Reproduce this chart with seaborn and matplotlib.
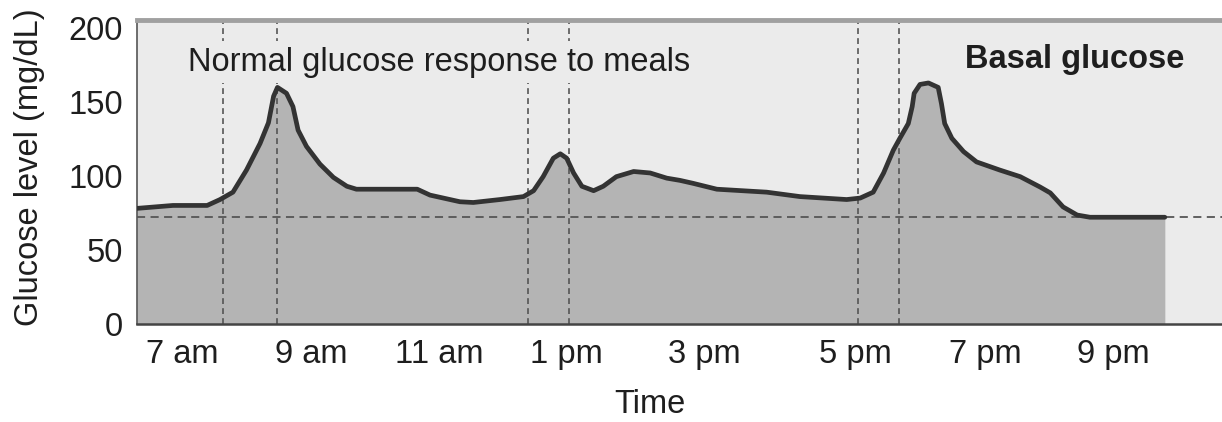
import numpy as np
import matplotlib
matplotlib.use('Agg')
import matplotlib.pyplot as plt
import seaborn as sns

# Glucose over one day (hour of day, mg/dL)
hours = [6.30, 6.86, 7.39, 7.59, 7.79, 8.00, 8.21, 8.34, 8.42, 8.48,
         8.62, 8.72, 8.80, 8.93, 9.14, 9.35, 9.56, 9.71, 10.66, 10.86,
         11.33, 11.54, 11.96, 12.33, 12.49, 12.64, 12.80, 12.91, 13.01, 13.11,
         13.23, 13.40, 13.54, 13.73, 13.98, 14.22, 14.46, 14.65, 14.84, 15.17,
         15.83, 16.27, 16.89, 17.08, 17.28, 17.44, 17.59, 17.69, 17.82, 17.88,
         17.91, 18.00, 18.13, 18.28, 18.33, 18.38, 18.49, 18.67, 18.87, 19.23,
         19.55, 19.86, 20.02, 20.22, 20.44, 20.64, 21.81]
glucose = [78, 80, 80, 84, 89, 104, 122, 136, 154, 160,
           156, 147, 131, 120, 108, 99, 93, 91, 91, 87,
           82.5, 82, 84, 86, 90, 99.5, 112, 115, 112, 102,
           93, 90, 93, 99.5, 103, 102, 98.5, 97, 95, 91,
           89, 86, 84, 85, 89, 102, 117.5, 125.5, 135.5, 147,
           156, 162, 163, 160, 149, 135.5, 125.5, 116.5, 109.5, 104,
           99.5, 92.5, 88.5, 79, 73.5, 72, 72]

# meal start / peak markers (hours) and basal level
meal_lines = [7.63, 8.48, 12.40, 13.04, 17.05, 17.68]
basal = 72

tick_hours = [7, 9, 11, 13, 15, 17, 19, 21]
tick_labels = ['7 am', '9 am', '11 am', '1 pm', '3 pm', '5 pm', '7 pm', '9 pm']
y_ticks = [0, 50, 100, 150, 200]

# the drawn time axis is a schematic, not evenly spaced: piecewise mapping
knot_h = [5] + tick_hours + [23]
knot_px = [53, 182, 311, 439, 566, 704, 855, 985, 1113, 1241]


def fwd(h):
    return np.interp(h, knot_h, knot_px)


def inv(p):
    return np.interp(p, knot_px, knot_h)


sns.set_style('white')
plt.rcParams['font.family'] = ['Liberation Sans', 'DejaVu Sans']

BG = '#ebebeb'
FILL = '#b4b4b4'
LINE = '#333333'
DASH = '#555555'
TXT = '#1e1e1e'
FS = 23.5

fig = plt.figure(figsize=(12.22, 4.22), dpi=100)
ax = fig.add_axes([137 / 1222, 1 - 323.5 / 422, 1 - 137 / 1222, 304 / 422])
ax.set_facecolor(BG)
ax.set_xscale('function', functions=(fwd, inv))

ax.fill_between(hours, 0, glucose, color=FILL, lw=0, zorder=1)
ax.axhline(basal, color=DASH, lw=1.3, dashes=(4.5, 3), zorder=2)
for m in meal_lines:
    ax.axvline(m, color=DASH, lw=1.2, dashes=(3.5, 2.5), zorder=2)
sns.lineplot(x=hours, y=glucose, ax=ax, color=LINE, linewidth=3.4,
             solid_joinstyle='round', solid_capstyle='round', zorder=4)

ax.text(0.047, 0.86, 'Normal glucose response to meals', transform=ax.transAxes,
        fontsize=FS, color=TXT, ha='left', va='center', zorder=3,
        bbox=dict(facecolor=BG, edgecolor='none', pad=4))
ax.text(0.8645, 0.867, 'Basal glucose', transform=ax.transAxes,
        fontsize=FS, fontweight='bold', color=TXT, ha='center', va='center', zorder=3)

ax.set_xlim(inv(137), inv(1222))
ax.set_ylim(0, 206)
ax.set_xticks(tick_hours)
ax.set_xticklabels(tick_labels)
ax.set_yticks(y_ticks)
ax.tick_params(axis='both', direction='in', length=13, width=1.1, colors='#444444',
               labelsize=FS, labelcolor=TXT)
ax.tick_params(axis='y', pad=10)
ax.tick_params(axis='x', pad=11)
for t, lab in zip(ax.xaxis.get_major_ticks(), tick_labels):
    if lab in ('1 pm', '5 pm'):
        t.tick1line.set_visible(False)

ax.set_xlabel('Time', fontsize=FS, color=TXT, labelpad=14)
ax.set_ylabel('Glucose level (mg/dL)', fontsize=FS, color=TXT, labelpad=17)
ax.xaxis.label.set_x((650 - 137) / 1085)
ax.yaxis.label.set_y((323.5 - 167) / 304)

ax.spines['right'].set_visible(False)
ax.spines['top'].set_color('#a0a0a0')
ax.spines['top'].set_linewidth(3.5)
ax.spines['left'].set_color('#555555')
ax.spines['left'].set_linewidth(1.2)
ax.spines['bottom'].set_color('#444444')
ax.spines['bottom'].set_linewidth(1.8)

fig.savefig('out.png', dpi=100, facecolor='white')
